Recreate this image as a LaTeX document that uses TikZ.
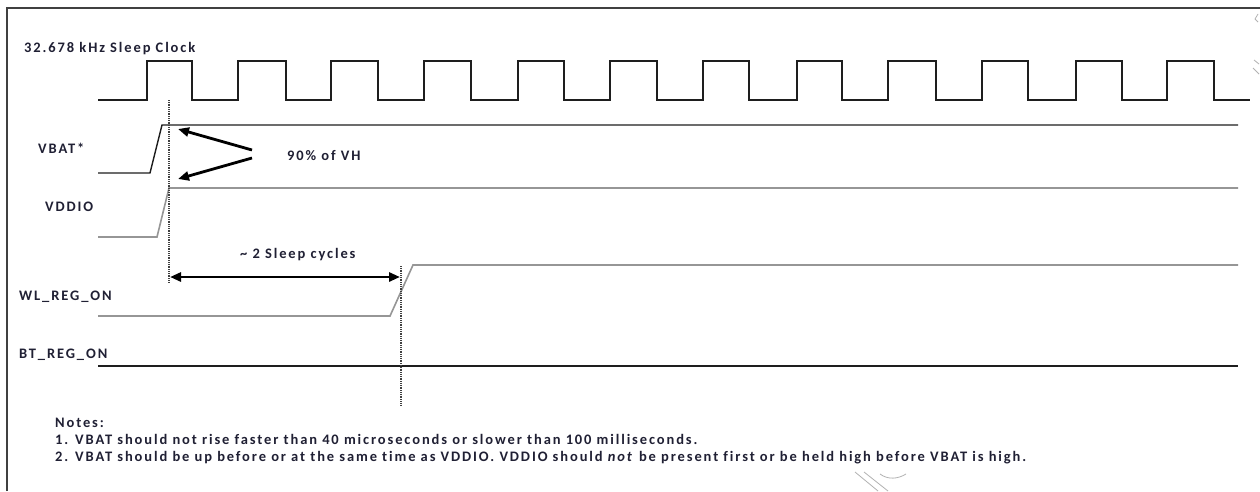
\documentclass[tikz,border=0pt]{standalone}
\usepackage{fontspec}
\setmainfont{Carlito}[LetterSpace=13,Ligatures=NoCommon,BoldFont={* Bold},BoldItalicFont={* Bold Italic}]
\usetikzlibrary{arrows.meta}
\definecolor{txt}{RGB}{32,32,52}
\definecolor{sig}{RGB}{30,30,30}
\definecolor{sgray}{RGB}{150,150,150}
\begin{document}
\begin{tikzpicture}[x=1pt,y=-1pt,
  lbl/.style={anchor=base west,inner sep=0pt,text=txt,font=\fontsize{14.5}{17}\selectfont\bfseries},
  wave/.style={draw=sig,line width=1.4pt,line join=miter},
  gwave/.style={draw=sgray,line width=1.6pt,line join=miter},
  marker/.style={draw=black!75,line width=2pt,dash pattern=on 1pt off 0.8pt},
  bigarrow/.style={draw=black,line width=2.8pt,-{Triangle[length=11pt,width=9pt]}},
  dblarrow/.style={draw=black,line width=2.8pt,{Triangle[length=11pt,width=9pt]}-{Triangle[length=11pt,width=9pt]}},
  ghost/.style={draw=black!30,line width=0.8pt}]
\useasboundingbox (0,0) rectangle (1260,491);
\fill[white] (0,0) rectangle (1260,491);
% frame
\draw[draw=black!75,line width=2pt] (7,491) -- (7,8) -- (1260,8);
% labels
\node[lbl] (clk) at (24,52) {32.678 kHz Sleep Clock};
\node[lbl] (vbat) at (38,153) {VBAT*};
\node[lbl] (vh) at (287,160) {90\% of VH};
\node[lbl] (vddio) at (45,211) {VDDIO};
\node[lbl] (cyc) at (240,258) {\char`~\ 2 Sleep cycles};
\node[lbl] (wl) at (19,300) {WL\_REG\_ON};
\node[lbl] (bt) at (19,358) {BT\_REG\_ON};
\node[lbl] (notes) at (55,427) {Notes:};
\node[lbl] (n1) at (55,444) {1. VBAT should not rise faster than 40 microseconds or slower than 100 milliseconds.};
\node[lbl] (n2) at (55,461) {2. VBAT should be up before or at the same time as VDDIO. VDDIO should \textit{not} be present first or be held high before VBAT is high.};
% clock
\draw[wave] (98,100) -- (147,100) -- (147,61) -- (192,61) -- (192,100)
  -- (238,100) -- (238,61) -- (286,61) -- (286,100)
  -- (331,100) -- (331,61) -- (378,61) -- (378,100)
  -- (424,100) -- (424,61) -- (471,61) -- (471,100)
  -- (518,100) -- (518,61) -- (564,61) -- (564,100)
  -- (610,100) -- (610,61) -- (657,61) -- (657,100)
  -- (703,100) -- (703,61) -- (749,61) -- (749,100)
  -- (797,100) -- (797,61) -- (842,61) -- (842,100)
  -- (888,100) -- (888,61) -- (936,61) -- (936,100)
  -- (982,100) -- (982,61) -- (1028,61) -- (1028,100)
  -- (1076,100) -- (1076,61) -- (1122,61) -- (1122,100)
  -- (1167,100) -- (1167,61) -- (1214,61) -- (1214,100) -- (1250,100);
% VBAT
\draw[wave] (98,173) -- (150,173) -- (162,125) -- (1238,125);
% VDDIO
\draw[gwave] (98,237) -- (157,237) -- (169,188) -- (1238,188);
% WL_REG_ON
\draw[gwave] (98,316) -- (390,316) -- (413,265) -- (1238,265);
% BT_REG_ON
\draw[wave] (98,366) -- (1238,366);
% markers
\coordinate (m1a) at (169,100); \coordinate (m1b) at (169,283);
\coordinate (m2a) at (401,266); \coordinate (m2b) at (401,406);
\draw[marker] (m1a) -- (m1b);
\draw[marker] (m2a) -- (m2b);
% 90% arrows
\coordinate (a1t) at (252,150); \coordinate (a1h) at (178,129);
\coordinate (a2t) at (252,158); \coordinate (a2h) at (178,179);
\draw[bigarrow] (a1t) -- (a1h);
\draw[bigarrow] (a2t) -- (a2h);
% sleep cycles arrow
\coordinate (d1) at (170,277); \coordinate (d2) at (400,277);
\draw[dblarrow] (d1) -- (d2);
% faint scan marks
\draw[ghost] (1258,14) -- (1255,19) -- (1258,22);
\draw[ghost] (1254,60) -- (1259,64);
\draw[ghost] (1253,68) -- (1259,74);
\draw[ghost] (855,472) -- (878,491);
\draw[ghost] (864,472) -- (888,491);
\draw[ghost] (880,474) .. controls (888,480) and (898,479) .. (906,474);
\end{tikzpicture}
\end{document}
